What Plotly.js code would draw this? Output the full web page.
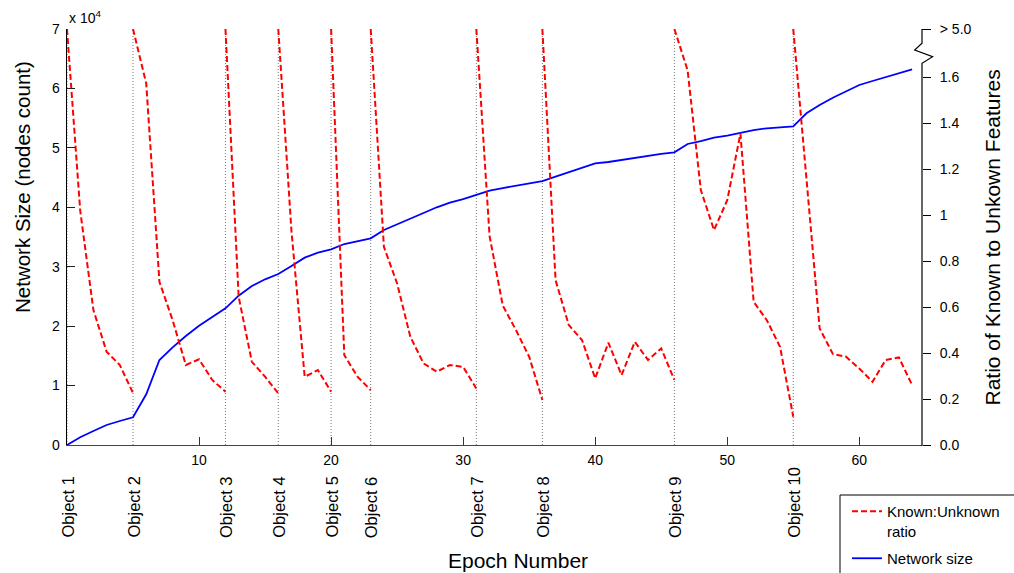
<!DOCTYPE html>
<html>
<head>
<meta charset="utf-8">
<script src="https://cdn.plot.ly/plotly-3.0.1.min.js"></script>
<style>html,body{margin:0;padding:0;background:#fff;}#chart{width:1014px;height:573px;}</style>
</head>
<body>
<div id="chart"></div>
<script>
// ---------------- data ----------------
const epochs = [0,1,2,3,4,5,6,7,8,9,10,11,12,13,14,15,16,17,18,19,20,21,22,23,24,25,26,27,28,29,30,31,32,
  33,34,35,36,37,38,39,40,41,42,43,44,45,46,47,48,49,50,51,52,53,54,55,56,57,58,59,60,61,62,63,64];
const networkSize = [0,1300,2360,3370,4040,4660,8530,14300,16440,18340,20070,21590,23000,25120,26750,27880,
  28770,30120,31520,32360,32930,33820,34330,34780,36180,37100,38110,39040,40000,40800,41390,42070,42790,
  43240,43670,44000,44420,45150,45940,46610,47400,47620,47960,48380,48710,48970,49250,50650,51150,51710,
  52040,52550,53000,53290,53510,53630,55810,57210,58440,59450,60580,61250,61870,62540,63220];

const objectLabels = ["Object 1","Object 2","Object 3","Object 4","Object 5","Object 6","Object 7","Object 8","Object 9","Object 10"];
const objectEpochs = [0,5,12,16,20,23,31,36,46,55];

// ratio value used for off-scale points (> 5.0), drawn at the axis break
const OVER = 1.81;
// Known:Unknown ratio, one segment per object, starting at its epoch
const ratioSeg1  = [OVER,1.02,0.587,0.406,0.348,0.226];
const ratioSeg2  = [OVER,1.573,0.71,0.543,0.348,0.373,0.283,0.232];
const ratioSeg3  = [OVER,0.645,0.362,0.297,0.225];
const ratioSeg4  = [OVER,0.93,0.297,0.326,0.232];
const ratioSeg5  = [OVER,0.391,0.297,0.239];
const ratioSeg6  = [OVER,0.862,0.703,0.471,0.355,0.319,0.348,0.34,0.246];
const ratioSeg7  = [OVER,0.91,0.607,0.5,0.384,0.196];
const ratioSeg8  = [OVER,0.717,0.522,0.457,0.29,0.445,0.304,0.449,0.37,0.42,0.283];
const ratioSeg9  = [OVER,1.63,1.109,0.935,1.065,1.355,0.623,0.543,0.427,0.123];
const ratioSeg10 = [OVER,1.17,0.507,0.396,0.384,0.333,0.275,0.37,0.381,0.261];
const ratioSegments = [ratioSeg1,ratioSeg2,ratioSeg3,ratioSeg4,ratioSeg5,ratioSeg6,ratioSeg7,ratioSeg8,ratioSeg9,ratioSeg10];

const leftTickVals = [0,10000,20000,30000,40000,50000,60000,70000];
const leftTickText = ["0","1","2","3","4","5","6","7"];
const rightTickVals = [0,0.2,0.4,0.6,0.8,1,1.2,1.4,1.6,OVER];
const rightTickText = ["0.0","0.2","0.4","0.6","0.8","1","1.2","1.4","1.6","> 5.0"];
const bottomTickVals = [10,20,30,40,50,60];

// ---------------- build ----------------
const rx = [], ry = [];
ratioSegments.forEach((seg, i) => {
  seg.forEach((v, k) => { rx.push(objectEpochs[i] + k); ry.push(v); });
  rx.push(null); ry.push(null);
});

const FONT = "Liberation Sans, Arial, Helvetica, sans-serif";
const W = 1014, H = 573, ML = 67, MR = 92, MT = 29, MB = 128;
const PW = W - ML - MR, PH = H - MT - MB;
const px = v => (v - ML) / PW;       // pixel x -> paper
const py = v => (H - MB - v) / PH;   // pixel y -> paper

const traces = [
  {x: rx, y: ry, yaxis: 'y2', type: 'scatter', mode: 'lines', name: 'Known:Unknown<br>ratio', legendgroup: 'g1',
   line: {color: '#ff0000', width: 2, dash: '6px,3px'}, connectgaps: false, hoverinfo: 'skip'},
  {x: epochs, y: networkSize, type: 'scatter', mode: 'lines', name: 'Network size', legendgroup: 'g2',
   line: {color: '#0000ff', width: 1.8}, hoverinfo: 'skip'}
];

const shapes = objectEpochs.map(e => ({
  type: 'line', xref: 'x', yref: 'paper', x0: e, x1: e, y0: 0, y1: 1, layer: 'below',
  line: {color: '#777', width: 1, dash: '1px,2px'}
}));
// right axis line with break
shapes.push({
  type: 'path', xref: 'paper', yref: 'paper', layer: 'above',
  path: 'M' + px(930.4) + ',' + py(29.5) + ' L' + px(922) + ',' + py(29.5) + ' L' + px(922) + ',' + py(43.3) +
        ' L' + px(914.7) + ',' + py(50) + ' L' + px(932.6) + ',' + py(56.7) + ' L' + px(922) + ',' + py(63.3) +
        ' L' + px(922) + ',' + py(446),
  line: {color: '#000', width: 1.2}
});
// legend box
shapes.push({type: 'rect', xref: 'paper', yref: 'paper', x0: px(840), x1: px(1030), y0: py(495), y1: py(590),
  line: {color: '#000', width: 1}, fillcolor: 'rgba(0,0,0,0)'});

const annotations = objectLabels.map((t, i) => ({
  text: t, x: objectEpochs[i], xref: 'x', y: py(540), yref: 'paper', textangle: -90,
  xanchor: 'center', yanchor: 'bottom', showarrow: false, font: {family: FONT, size: 16.5, color: '#000'}
}));
annotations.push({text: 'x 10<sup>4</sup>', x: px(67), y: py(17), xref: 'paper', yref: 'paper',
  xanchor: 'left', yanchor: 'middle', showarrow: false, font: {family: FONT, size: 14, color: '#000'}});
annotations.push({text: 'Network Size (nodes count)', x: px(22), y: py(187), xref: 'paper', yref: 'paper',
  textangle: -90, xanchor: 'center', yanchor: 'middle', showarrow: false, font: {family: FONT, size: 20.5, color: '#000'}});
annotations.push({text: 'Ratio of Known to Unkown Features', x: px(992), y: py(237.5), xref: 'paper', yref: 'paper',
  textangle: -90, xanchor: 'center', yanchor: 'middle', showarrow: false, font: {family: FONT, size: 21, color: '#000'}});
annotations.push({text: 'Epoch Number', x: px(518), y: py(560), xref: 'paper', yref: 'paper',
  xanchor: 'center', yanchor: 'middle', showarrow: false, font: {family: FONT, size: 21, color: '#000'}});

const layout = {
  width: W, height: H,
  margin: {l: ML, r: MR, t: MT, b: MB, pad: 0, autoexpand: false},
  paper_bgcolor: '#fff', plot_bgcolor: '#fff',
  font: {family: FONT, size: 14, color: '#000'},
  showlegend: true,
  legend: {x: px(847), y: py(495), xanchor: 'left', yanchor: 'top', bgcolor: 'rgba(0,0,0,0)', borderwidth: 0,
    font: {family: FONT, size: 15, color: '#000'}, valign: 'top', itemwidth: 30, tracegroupgap: 5,
    traceorder: 'grouped'},
  xaxis: {range: [0, 64.75], tickvals: bottomTickVals, ticks: 'inside', ticklen: 8, tickcolor: '#333', tickwidth: 1,
    showline: true, linecolor: '#444', linewidth: 1, showgrid: false, zeroline: false,
    tickfont: {family: FONT, size: 14, color: '#000'}, ticklabelstandoff: 2},
  yaxis: {range: [0, 70000], tickvals: leftTickVals, ticktext: leftTickText, ticks: 'inside', ticklen: 8,
    tickcolor: '#222', tickwidth: 1, showline: true, linecolor: '#000', linewidth: 1.5, showgrid: false, zeroline: false,
    tickfont: {family: FONT, size: 14, color: '#000'}, ticklabelstandoff: 3},
  yaxis2: {range: [0, OVER], overlaying: 'y', side: 'right', tickvals: rightTickVals, ticktext: rightTickText,
    ticks: 'outside', ticklen: 8, tickcolor: '#000', tickwidth: 1, showline: false, showgrid: false, zeroline: false,
    tickfont: {family: FONT, size: 14, color: '#000'}, ticklabelstandoff: 6},
  shapes: shapes,
  annotations: annotations
};

Plotly.newPlot('chart', traces, layout, {displayModeBar: false, staticPlot: true});
</script>
</body>
</html>
